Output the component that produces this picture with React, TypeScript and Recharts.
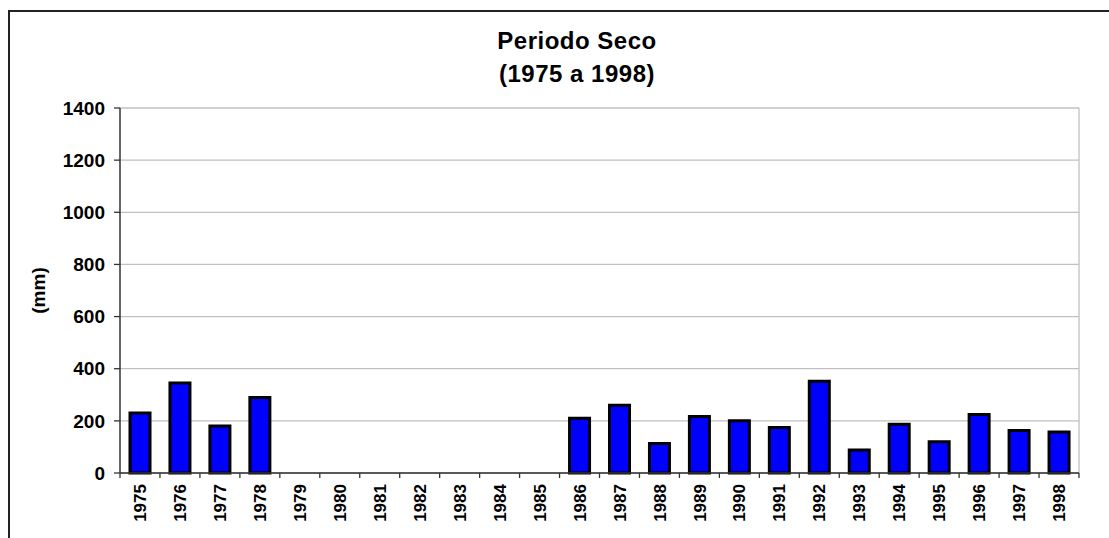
import { BarChart, Bar, XAxis, YAxis, CartesianGrid } from "recharts";

const years = [
  "1975", "1976", "1977", "1978", "1979", "1980", "1981", "1982",
  "1983", "1984", "1985", "1986", "1987", "1988", "1989", "1990",
  "1991", "1992", "1993", "1994", "1995", "1996", "1997", "1998",
];
const rainfall: (number | null)[] = [
  230, 345, 180, 290, null, null, null, null,
  null, null, null, 210, 260, 113, 217, 200,
  175, 352, 88, 187, 120, 224, 163, 157,
];
const yTicks = [0, 200, 400, 600, 800, 1000, 1200, 1400];

const data = years.map((year, i) => ({ year, value: rainfall[i] }));

const FONT = "Arial, 'Liberation Sans', sans-serif";

// category ticks: tick marks sit between the bars, labels rotated
function YearTick(props: any) {
  const { x, y, payload, index, width, visibleTicksCount } = props;
  const bw = width / visibleTicksCount;
  const axisY = y - 11;
  const last = index === visibleTicksCount - 1;
  return (
    <g>
      <line x1={x - bw / 2} x2={x - bw / 2} y1={axisY} y2={axisY + 5} stroke="#333" strokeWidth={1.3} />
      {last && (
        <line x1={x + bw / 2} x2={x + bw / 2} y1={axisY} y2={axisY + 5} stroke="#333" strokeWidth={1.3} />
      )}
      <text
        x={x}
        y={y}
        dy="0.36em"
        transform={`rotate(-90 ${x} ${y})`}
        textAnchor="end"
        fontFamily={FONT}
        fontWeight="bold"
        fontSize={17}
        fill="#000"
      >
        {payload.value}
      </text>
    </g>
  );
}

export default function App() {
  return (
    <div style={{ position: "relative", width: 1109, height: 538, overflow: "hidden", background: "#fff" }}>
      <style>{"body{margin:0;overflow:hidden}"}</style>
      <div
        style={{
          position: "absolute",
          left: 8,
          top: 10,
          width: 1120,
          height: 540,
          borderLeft: "2px solid #222",
          borderTop: "2px solid #222",
        }}
      />
      <div
        style={{
          position: "absolute",
          left: 377,
          top: 24,
          width: 400,
          textAlign: "center",
          fontFamily: FONT,
          fontWeight: "bold",
          fontSize: 24,
          letterSpacing: 0.5,
          lineHeight: "33px",
          color: "#000",
        }}
      >
        <div>Periodo Seco</div>
        <div>(1975 a 1998)</div>
      </div>
      <div style={{ position: "absolute", left: 0, top: 0 }}>
        <BarChart
          width={1109}
          height={538}
          data={data}
          margin={{ top: 108, right: 30, bottom: 5, left: 20 }}
          barSize={20}
        >
          <CartesianGrid
            stroke="#c0c0c0"
            strokeWidth={1.3}
            verticalCoordinatesGenerator={({ offset }: any) => [offset.left + offset.width]}
          />
          <XAxis
            dataKey="year"
            height={60}
            interval={0}
            tickLine={false}
            tickSize={5}
            tickMargin={6}
            axisLine={{ stroke: "#333", strokeWidth: 1.5 }}
            tick={<YearTick />}
          />
          <YAxis
            width={100}
            domain={[0, 1400]}
            ticks={yTicks}
            interval={0}
            tickSize={6}
            tickMargin={9}
            axisLine={{ stroke: "#333", strokeWidth: 1.5 }}
            tickLine={{ stroke: "#333", strokeWidth: 1.3 }}
            tick={{ fill: "#000", fontFamily: FONT, fontWeight: "bold", fontSize: 19 }}
            label={{
              value: "(mm)",
              angle: -90,
              position: "insideLeft",
              offset: 18,
              style: { textAnchor: "middle", fontFamily: FONT, fontWeight: "bold", fontSize: 19, fill: "#000" },
            }}
          />
          <Bar
            dataKey="value"
            fill="#0000ff"
            stroke="#000"
            strokeWidth={3}
            isAnimationActive={false}
          />
        </BarChart>
      </div>
    </div>
  );
}
